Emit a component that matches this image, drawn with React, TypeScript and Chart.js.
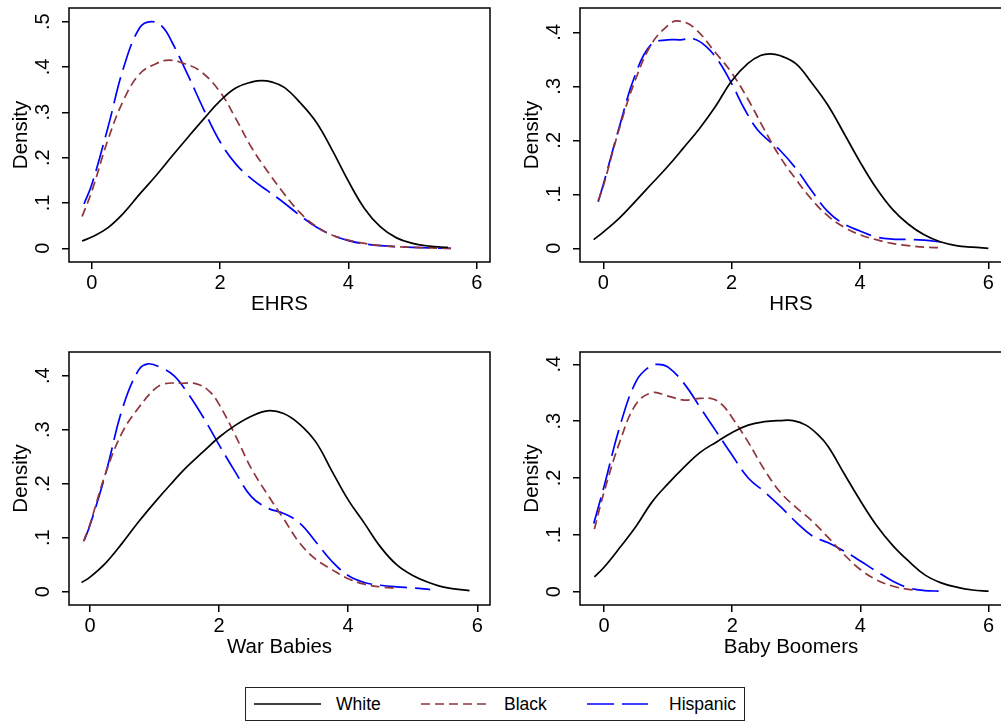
import React, { useEffect, useRef } from "react";
import { Chart, registerables } from "chart.js";

Chart.register(...registerables);

const FONT = "'Liberation Sans', Arial, Helvetica, sans-serif";

// ---- categories / labels ----
const SERIES_NAMES = ["White", "Black", "Hispanic"];
const PANEL_TITLES = ["EHRS", "HRS", "War Babies", "Baby Boomers"];
const Y_TITLE = "Density";
const X_TICKS = [0, 2, 4, 6];
const Y_TICKS_EHRS = [0, 0.1, 0.2, 0.3, 0.4, 0.5];
const Y_TICKS_OTHER = [0, 0.1, 0.2, 0.3, 0.4];

// ---- series values: [x, density] ----
const ehrsWhite: [number, number][] = [[-0.15,0.016],[0,0.025],[0.25,0.045],[0.5,0.078],[0.75,0.12],[1.0,0.16],[1.25,0.203],[1.5,0.245],[1.75,0.286],[2.0,0.325],[2.25,0.354],[2.5,0.367],[2.65,0.37],[2.8,0.367],[3.0,0.355],[3.25,0.321],[3.5,0.278],[3.75,0.216],[4.0,0.148],[4.25,0.088],[4.5,0.047],[4.75,0.023],[5.0,0.011],[5.25,0.005],[5.55,0.002]];
const ehrsBlack: [number, number][] = [[-0.15,0.07],[0,0.125],[0.25,0.238],[0.5,0.328],[0.75,0.385],[1.0,0.407],[1.2,0.415],[1.45,0.407],[1.7,0.39],[2.0,0.345],[2.25,0.285],[2.5,0.22],[2.75,0.168],[3.0,0.12],[3.25,0.078],[3.5,0.048],[3.75,0.029],[4.0,0.018],[4.25,0.011],[4.5,0.006],[5.0,0.002],[5.6,0.0]];
const ehrsHispanic: [number, number][] = [[-0.12,0.098],[0,0.14],[0.25,0.265],[0.5,0.40],[0.75,0.487],[0.93,0.50],[1.1,0.489],[1.25,0.455],[1.5,0.382],[1.75,0.305],[2.0,0.235],[2.25,0.185],[2.5,0.152],[2.75,0.126],[3.0,0.1],[3.25,0.072],[3.5,0.047],[3.75,0.029],[4.0,0.017],[4.25,0.01],[4.5,0.006],[5.0,0.002],[5.6,0.0]];

const hrsWhite: [number, number][] = [[-0.15,0.016],[0,0.03],[0.25,0.056],[0.5,0.087],[0.75,0.119],[1.0,0.151],[1.25,0.186],[1.5,0.222],[1.75,0.263],[2.0,0.31],[2.25,0.342],[2.45,0.357],[2.6,0.36],[2.75,0.357],[3.0,0.342],[3.25,0.306],[3.5,0.265],[3.75,0.213],[4.0,0.16],[4.25,0.112],[4.5,0.073],[4.75,0.045],[5.0,0.025],[5.25,0.012],[5.5,0.005],[5.75,0.002],[6.0,0.0]];
const hrsBlack: [number, number][] = [[-0.08,0.088],[0,0.115],[0.25,0.222],[0.5,0.312],[0.75,0.378],[1.0,0.412],[1.15,0.421],[1.4,0.41],[1.75,0.362],[2.0,0.325],[2.25,0.277],[2.5,0.222],[2.75,0.17],[3.0,0.128],[3.25,0.09],[3.5,0.06],[3.75,0.039],[4.0,0.025],[4.25,0.016],[4.5,0.009],[4.75,0.005],[5.0,0.002],[5.25,0.001]];
const hrsHispanic: [number, number][] = [[-0.08,0.086],[0,0.118],[0.25,0.225],[0.5,0.322],[0.75,0.378],[1.0,0.386],[1.2,0.386],[1.4,0.388],[1.6,0.374],[1.8,0.346],[2.0,0.305],[2.2,0.258],[2.4,0.22],[2.6,0.197],[2.75,0.182],[3.0,0.148],[3.25,0.106],[3.5,0.068],[3.75,0.045],[4.0,0.032],[4.25,0.021],[4.5,0.017],[4.75,0.0165],[5.0,0.015],[5.3,0.011]];

const warWhite: [number, number][] = [[-0.13,0.017],[0,0.027],[0.25,0.054],[0.5,0.09],[0.75,0.129],[1.0,0.165],[1.25,0.199],[1.5,0.231],[1.75,0.259],[2.0,0.286],[2.25,0.308],[2.5,0.325],[2.75,0.335],[3.0,0.33],[3.25,0.31],[3.5,0.277],[3.75,0.223],[4.0,0.17],[4.25,0.127],[4.5,0.083],[4.75,0.05],[5.0,0.03],[5.25,0.017],[5.5,0.008],[5.88,0.002]];
const warBlack: [number, number][] = [[-0.1,0.093],[0,0.125],[0.25,0.222],[0.5,0.295],[0.75,0.34],[1.0,0.375],[1.15,0.385],[1.4,0.386],[1.65,0.385],[1.85,0.371],[2.0,0.347],[2.25,0.29],[2.5,0.228],[2.75,0.18],[3.0,0.135],[3.25,0.09],[3.5,0.06],[3.75,0.041],[4.0,0.024],[4.25,0.014],[4.5,0.009],[4.78,0.006]];
const warHispanic: [number, number][] = [[-0.09,0.095],[0,0.123],[0.25,0.222],[0.5,0.338],[0.75,0.41],[0.9,0.422],[1.1,0.415],[1.3,0.4],[1.5,0.37],[1.75,0.324],[2.0,0.272],[2.25,0.222],[2.5,0.176],[2.75,0.155],[3.0,0.145],[3.25,0.127],[3.5,0.092],[3.75,0.056],[4.0,0.03],[4.25,0.017],[4.5,0.012],[4.75,0.009],[5.0,0.007],[5.27,0.004]];

const boomWhite: [number, number][] = [[-0.15,0.026],[0,0.043],[0.25,0.078],[0.5,0.115],[0.75,0.158],[1.0,0.19],[1.25,0.219],[1.5,0.245],[1.75,0.263],[2.0,0.28],[2.25,0.293],[2.5,0.299],[2.75,0.301],[2.95,0.301],[3.15,0.293],[3.35,0.275],[3.5,0.255],[3.75,0.207],[4.0,0.16],[4.25,0.117],[4.5,0.082],[4.75,0.054],[5.0,0.03],[5.25,0.016],[5.5,0.008],[5.75,0.003],[6.0,0.001]];
const boomBlack: [number, number][] = [[-0.15,0.11],[0,0.175],[0.25,0.265],[0.5,0.33],[0.75,0.35],[1.0,0.344],[1.25,0.337],[1.5,0.34],[1.7,0.339],[1.85,0.328],[2.0,0.306],[2.25,0.263],[2.5,0.215],[2.75,0.175],[3.0,0.148],[3.25,0.124],[3.5,0.095],[3.75,0.065],[4.0,0.039],[4.25,0.021],[4.5,0.01],[4.75,0.004],[4.9,0.003]];
const boomHispanic: [number, number][] = [[-0.16,0.12],[0,0.185],[0.25,0.292],[0.5,0.37],[0.7,0.395],[0.85,0.40],[1.0,0.395],[1.25,0.366],[1.5,0.324],[1.75,0.282],[2.0,0.24],[2.25,0.2],[2.5,0.176],[2.75,0.15],[3.0,0.122],[3.25,0.098],[3.5,0.086],[3.75,0.071],[4.0,0.054],[4.25,0.036],[4.5,0.019],[4.75,0.007],[5.0,0.002],[5.24,0.001]];

// ---- styles ----
const SERIES_COLORS = ["#000000", "#90353b", "#0000ff"];
const SERIES_DASH: number[][] = [[], [9, 5], [27, 8]];
const LINE_W = 1.7;

type Frame = { x: number; y: number; w: number; h: number };
type PanelCfg = {
  title: string;
  frame: Frame;
  xr: [number, number];
  yr: [number, number];
  yTicks: number[];
  series: [number, number][][];
};

const PANELS: PanelCfg[] = [
  { title: PANEL_TITLES[0], frame: { x: 69, y: 8, w: 421, h: 254 }, xr: [-0.354, 6.207], yr: [-0.0302, 0.53], yTicks: Y_TICKS_EHRS, series: [ehrsWhite, ehrsBlack, ehrsHispanic] },
  { title: PANEL_TITLES[1], frame: { x: 580, y: 8, w: 422, h: 254 }, xr: [-0.363, 6.213], yr: [-0.0254, 0.445], yTicks: Y_TICKS_OTHER, series: [hrsWhite, hrsBlack, hrsHispanic] },
  { title: PANEL_TITLES[2], frame: { x: 69, y: 352, w: 421, h: 253 }, xr: [-0.325, 6.197], yr: [-0.0246, 0.4439], yTicks: Y_TICKS_OTHER, series: [warWhite, warBlack, warHispanic] },
  { title: PANEL_TITLES[3], frame: { x: 580, y: 352, w: 422, h: 253 }, xr: [-0.375, 6.21], yr: [-0.0234, 0.4216], yTicks: Y_TICKS_OTHER, series: [boomWhite, boomBlack, boomHispanic] },
];

const AX_W = 69;
const AX_H = 70;
const PAD_T = 8;
const PAD_R = 12;

const fmtY = (v: number) => {
  const r = Math.round(v * 10) / 10;
  if (r === 0) return "0";
  return String(r).replace(/^0\./, ".");
};

const framePlugin = {
  id: "stataFrame",
  afterDatasetsDraw(chart: any) {
    const { ctx, chartArea } = chart;
    ctx.save();
    ctx.strokeStyle = "#000";
    ctx.lineWidth = 1.5;
    ctx.setLineDash([]);
    ctx.strokeRect(chartArea.left, chartArea.top, chartArea.right - chartArea.left, chartArea.bottom - chartArea.top);
    ctx.restore();
  },
};

const zeroPad = (s: any) => {
  s.paddingTop = 0;
  s.paddingBottom = 0;
  s.paddingLeft = 0;
  s.paddingRight = 0;
};

function Panel({ cfg }: { cfg: PanelCfg }) {
  const ref = useRef<HTMLCanvasElement | null>(null);
  const cw = cfg.frame.w + AX_W + PAD_R;
  const ch = cfg.frame.h + PAD_T + AX_H;

  useEffect(() => {
    if (!ref.current) return;
    const chart = new Chart(ref.current, {
      type: "line",
      data: {
        datasets: cfg.series.map((pts, i) => ({
          label: SERIES_NAMES[i],
          data: pts.map(([x, y]) => ({ x, y })),
          borderColor: SERIES_COLORS[i],
          backgroundColor: SERIES_COLORS[i],
          borderDash: SERIES_DASH[i],
          borderWidth: LINE_W,
          borderJoinStyle: "round" as const,
          pointRadius: 0,
          tension: 0.4,
          fill: false,
        })),
      },
      options: {
        animation: false,
        responsive: false,
        maintainAspectRatio: false,
        devicePixelRatio: 1,
        events: [],
        layout: { padding: { top: PAD_T, right: PAD_R, left: 0, bottom: 0 } },
        plugins: { legend: { display: false }, tooltip: { enabled: false }, title: { display: false } },
        scales: {
          x: {
            type: "linear",
            min: cfg.xr[0],
            max: cfg.xr[1],
            afterFit: (s: any) => { s.height = AX_H; zeroPad(s); },
            afterBuildTicks: (s: any) => { s.ticks = X_TICKS.map((v) => ({ value: v })); },
            grid: { drawOnChartArea: false, drawTicks: true, tickLength: 7, color: "#000", lineWidth: 1.5 },
            border: { display: false },
            ticks: {
              color: "#000",
              font: { family: FONT, size: 20 },
              padding: 2,
              maxRotation: 0,
              minRotation: 0,
              autoSkip: false,
              callback: (v: any) => String(v),
            },
            title: {
              display: true,
              text: cfg.title,
              color: "#000",
              font: { family: FONT, size: 20.5 },
              padding: { top: 0, bottom: 15 },
            },
          },
          y: {
            type: "linear",
            min: cfg.yr[0],
            max: cfg.yr[1],
            afterFit: (s: any) => { s.width = AX_W; zeroPad(s); },
            afterBuildTicks: (s: any) => { s.ticks = cfg.yTicks.map((v) => ({ value: v })); },
            grid: { drawOnChartArea: false, drawTicks: true, tickLength: 7, color: "#000", lineWidth: 1.5 },
            border: { display: false },
            ticks: {
              color: "#000",
              font: { family: FONT, size: 20 },
              padding: 10,
              minRotation: 90,
              maxRotation: 90,
              crossAlign: "center",
              autoSkip: false,
              callback: (v: any) => fmtY(Number(v)),
            },
            title: {
              display: true,
              text: Y_TITLE,
              color: "#000",
              font: { family: FONT, size: 20.5 },
              padding: { top: 9, bottom: 0 },
            },
          },
        },
      } as any,
      plugins: [framePlugin],
    });
    return () => chart.destroy();
  }, [cfg]);

  return (
    <canvas
      ref={ref}
      width={cw}
      height={ch}
      style={{ position: "absolute", left: cfg.frame.x - AX_W, top: cfg.frame.y - PAD_T, width: cw, height: ch }}
    />
  );
}

// legend layout (relative to legend box)
const LEGEND_BOX = { x: 245, y: 687, w: 500, h: 34 };
const LEGEND_ITEMS = [
  { x1: 8, x2: 75, tx: 91 },
  { x1: 175, x2: 242, tx: 259 },
  { x1: 341, x2: 402, tx: 424 },
];

function Legend() {
  return (
    <div
      style={{
        position: "absolute",
        left: LEGEND_BOX.x,
        top: LEGEND_BOX.y,
        width: LEGEND_BOX.w,
        height: LEGEND_BOX.h,
        boxSizing: "border-box",
        border: "1px solid #222",
        background: "#fff",
        fontFamily: FONT,
        fontSize: 17.5,
        color: "#000",
      }}
    >
      <svg width={LEGEND_BOX.w - 2} height={LEGEND_BOX.h - 2} style={{ position: "absolute", left: 0, top: 0 }}>
        {LEGEND_ITEMS.map((it, i) => (
          <line
            key={i}
            x1={it.x1}
            x2={it.x2}
            y1={16}
            y2={16}
            stroke={SERIES_COLORS[i]}
            strokeWidth={LINE_W}
            strokeDasharray={SERIES_DASH[i].length ? SERIES_DASH[i].join(" ") : undefined}
          />
        ))}
      </svg>
      {LEGEND_ITEMS.map((it, i) => (
        <div
          key={i}
          style={{ position: "absolute", left: it.tx - 1, top: 0, height: LEGEND_BOX.h - 2, lineHeight: `${LEGEND_BOX.h - 2}px`, whiteSpace: "nowrap" }}
        >
          {SERIES_NAMES[i]}
        </div>
      ))}
    </div>
  );
}

export default function App() {
  return (
    <div
      style={{
        position: "fixed",
        left: 0,
        top: 0,
        width: 1001,
        height: 723,
        overflow: "hidden",
        background: "#fff",
      }}
    >
      {PANELS.map((p, i) => (
        <Panel key={i} cfg={p} />
      ))}
      <Legend />
    </div>
  );
}
